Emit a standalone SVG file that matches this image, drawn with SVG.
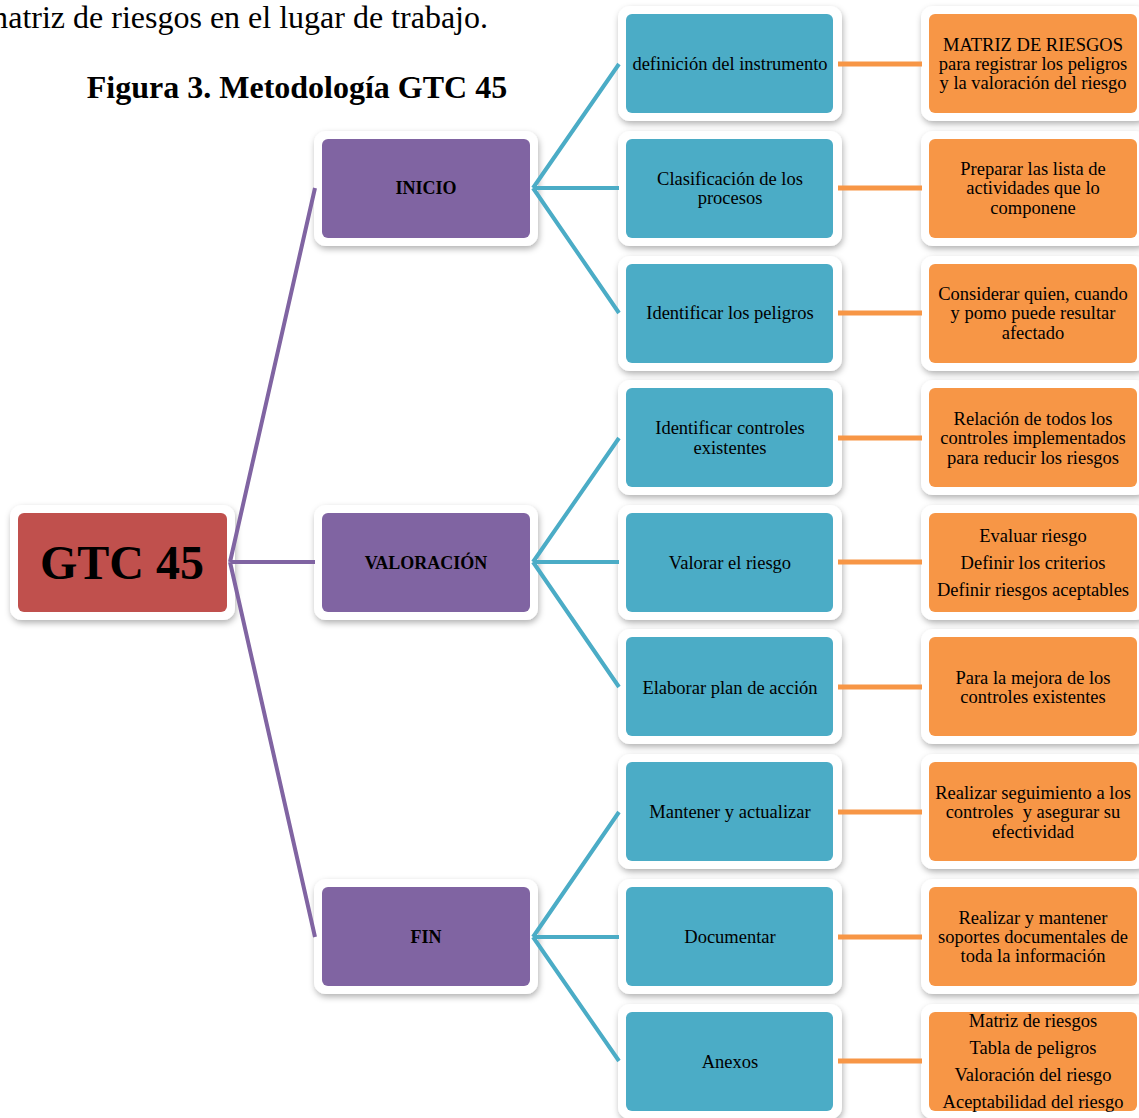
<svg xmlns="http://www.w3.org/2000/svg" width="1139" height="1118" viewBox="0 0 1139 1118">
<style>
text{font-family:"Liberation Serif","Times New Roman",serif;fill:#000;text-anchor:middle}
.t{font-size:18.5px}
.b{font-size:18px;font-weight:bold}
.frame{fill:#fff;filter:url(#sh)}
.red{fill:#C0504D}.pur{fill:#8064A2}.teal{fill:#4BACC6}.org{fill:#F79646}
.cp{stroke:#8064A2;stroke-width:4;fill:none}
.ct{stroke:#4BACC6;stroke-width:4;fill:none}
.co{stroke:#F79646;stroke-width:5;fill:none}
</style>
<defs>
<filter id="sh" x="-10%" y="-10%" width="120%" height="130%">
<feDropShadow dx="1" dy="3" stdDeviation="3" flood-color="#000" flood-opacity="0.3"/>
</filter>
</defs>
<text x="488" y="28" style="font-size:32px;text-anchor:end">matriz de riesgos en el lugar de trabajo.</text>
<text x="297" y="98" style="font-size:32px;font-weight:bold">Figura 3. Metodología GTC 45</text>

<g id="root">
<rect class="frame" x="10" y="505" width="225" height="115" rx="12"/>
<rect class="red" x="18" y="513" width="209" height="99" rx="6"/>
<text x="122" y="579" style="font-size:48px;font-weight:bold">GTC 45</text>
</g>

<g id="inicio">
<rect class="frame" x="314" y="131" width="224" height="115" rx="12"/>
<rect class="pur" x="322" y="139" width="208" height="99" rx="6"/>
<text class="b" x="426" y="194">INICIO</text>
</g>
<g id="valoracion">
<rect class="frame" x="314" y="505" width="224" height="115" rx="12"/>
<rect class="pur" x="322" y="513" width="208" height="99" rx="6"/>
<text class="b" x="426" y="569">VALORACIÓN</text>
</g>
<g id="fin">
<rect class="frame" x="314" y="879" width="224" height="115" rx="12"/>
<rect class="pur" x="322" y="887" width="208" height="99" rx="6"/>
<text class="b" x="426" y="943">FIN</text>
</g>

<g id="t0"><rect class="frame" x="618" y="6" width="224" height="115" rx="12"/><rect class="teal" x="626" y="14" width="207" height="99" rx="6"/>
<text class="t" x="730" y="70">definición del instrumento</text></g>
<g id="t1"><rect class="frame" x="618" y="131" width="224" height="115" rx="12"/><rect class="teal" x="626" y="139" width="207" height="99" rx="6"/>
<text class="t" x="730" y="185">Clasificación de los</text><text class="t" x="730" y="204">procesos</text></g>
<g id="t2"><rect class="frame" x="618" y="256" width="224" height="115" rx="12"/><rect class="teal" x="626" y="264" width="207" height="99" rx="6"/>
<text class="t" x="730" y="319">Identificar los peligros</text></g>
<g id="t3"><rect class="frame" x="618" y="380" width="224" height="115" rx="12"/><rect class="teal" x="626" y="388" width="207" height="99" rx="6"/>
<text class="t" x="730" y="434">Identificar controles</text><text class="t" x="730" y="454">existentes</text></g>
<g id="t4"><rect class="frame" x="618" y="505" width="224" height="115" rx="12"/><rect class="teal" x="626" y="513" width="207" height="99" rx="6"/>
<text class="t" x="730" y="569">Valorar el riesgo</text></g>
<g id="t5"><rect class="frame" x="618" y="629" width="224" height="115" rx="12"/><rect class="teal" x="626" y="637" width="207" height="99" rx="6"/>
<text class="t" x="730" y="694">Elaborar plan de acción</text></g>
<g id="t6"><rect class="frame" x="618" y="754" width="224" height="115" rx="12"/><rect class="teal" x="626" y="762" width="207" height="99" rx="6"/>
<text class="t" x="730" y="818">Mantener y actualizar</text></g>
<g id="t7"><rect class="frame" x="618" y="879" width="224" height="115" rx="12"/><rect class="teal" x="626" y="887" width="207" height="99" rx="6"/>
<text class="t" x="730" y="943">Documentar</text></g>
<g id="t8"><rect class="frame" x="618" y="1004" width="224" height="115" rx="12"/><rect class="teal" x="626" y="1012" width="207" height="99" rx="6"/>
<text class="t" x="730" y="1068">Anexos</text></g>

<g id="o0"><rect class="frame" x="921" y="6" width="226" height="115" rx="12"/><rect class="org" x="929" y="14" width="208" height="99" rx="6"/>
<text class="t" x="1033" y="51">MATRIZ DE RIESGOS</text><text class="t" x="1033" y="70">para registrar los peligros</text><text class="t" x="1033" y="89">y la valoración del riesgo</text></g>
<g id="o1"><rect class="frame" x="921" y="131" width="226" height="115" rx="12"/><rect class="org" x="929" y="139" width="208" height="99" rx="6"/>
<text class="t" x="1033" y="175">Preparar las lista de</text><text class="t" x="1033" y="194">actividades que lo</text><text class="t" x="1033" y="214">componene</text></g>
<g id="o2"><rect class="frame" x="921" y="256" width="226" height="115" rx="12"/><rect class="org" x="929" y="264" width="208" height="99" rx="6"/>
<text class="t" x="1033" y="300">Considerar quien, cuando</text><text class="t" x="1033" y="319">y pomo puede resultar</text><text class="t" x="1033" y="339">afectado</text></g>
<g id="o3"><rect class="frame" x="921" y="380" width="226" height="115" rx="12"/><rect class="org" x="929" y="388" width="208" height="99" rx="6"/>
<text class="t" x="1033" y="425">Relación de todos los</text><text class="t" x="1033" y="444">controles implementados</text><text class="t" x="1033" y="464">para reducir los riesgos</text></g>
<g id="o4"><rect class="frame" x="921" y="505" width="226" height="115" rx="12"/><rect class="org" x="929" y="513" width="208" height="99" rx="6"/>
<text class="t" x="1033" y="542">Evaluar riesgo</text><text class="t" x="1033" y="569">Definir los criterios</text><text class="t" x="1033" y="596">Definir riesgos aceptables</text></g>
<g id="o5"><rect class="frame" x="921" y="629" width="226" height="115" rx="12"/><rect class="org" x="929" y="637" width="208" height="99" rx="6"/>
<text class="t" x="1033" y="684">Para la mejora de los</text><text class="t" x="1033" y="703">controles existentes</text></g>
<g id="o6"><rect class="frame" x="921" y="754" width="226" height="115" rx="12"/><rect class="org" x="929" y="762" width="208" height="99" rx="6"/>
<text class="t" x="1033" y="799">Realizar seguimiento a los</text><text class="t" x="1033" y="818" xml:space="preserve">controles  y asegurar su</text><text class="t" x="1033" y="838">efectividad</text></g>
<g id="o7"><rect class="frame" x="921" y="879" width="226" height="115" rx="12"/><rect class="org" x="929" y="887" width="208" height="99" rx="6"/>
<text class="t" x="1033" y="924">Realizar y mantener</text><text class="t" x="1033" y="943">soportes documentales de</text><text class="t" x="1033" y="962">toda la información</text></g>
<g id="o8"><rect class="frame" x="921" y="1004" width="226" height="115" rx="12"/><rect class="org" x="929" y="1012" width="208" height="99" rx="6"/>
<text class="t" x="1033" y="1027">Matriz de riesgos</text><text class="t" x="1033" y="1054">Tabla de peligros</text><text class="t" x="1033" y="1081">Valoración del riesgo</text><text class="t" x="1033" y="1108">Aceptabilidad del riesgo</text></g>

<g id="connectors">
<path class="cp" d="M230 562L315 188M230 562H315M230 562L315 937"/>
<path class="ct" d="M533 188L619 64M533 188H619M533 188L619 313"/>
<path class="ct" d="M533 562L619 438M533 562H619M533 562L619 687"/>
<path class="ct" d="M533 937L619 812M533 937H619M533 937L619 1061"/>
<path class="co" d="M838 64H922M838 188H922M838 313H922M838 438H922M838 562H922M838 687H922M838 812H922M838 937H922M838 1061H922"/>
</g>
</svg>
